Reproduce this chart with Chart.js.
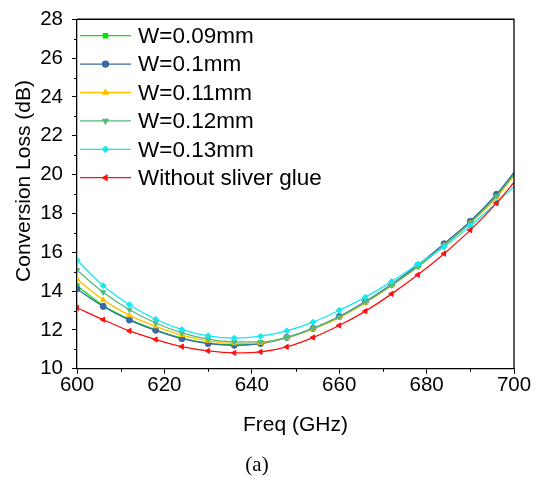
<!DOCTYPE html>
<html lang="en">
<head>
<meta charset="UTF-8">
<title>Conversion Loss vs Freq</title>
<script src="https://cdn.jsdelivr.net/npm/chart.js"></script>
<style>
  body { margin: 0; background: #fff; }
  #wrap { width: 541px; height: 485px; }
</style>
</head>
<body>
<div id="wrap"><canvas id="chart" width="541" height="485"></canvas></div>
<script>
// frequency points (GHz), markers every 6 GHz
var freq = [600, 606, 612, 618, 624, 630, 636, 642, 648, 654, 660, 666, 672, 678, 684, 690, 696, 700];

// conversion loss (dB)
var w009 = [14.28, 13.26, 12.55, 12.01, 11.58, 11.32, 11.23, 11.31, 11.61, 12.07, 12.67, 13.45, 14.33, 15.30, 16.40, 17.58, 18.95, 20.08];
var w010 = [14.11, 13.21, 12.51, 11.98, 11.55, 11.30, 11.21, 11.30, 11.61, 12.08, 12.69, 13.46, 14.35, 15.34, 16.44, 17.60, 18.99, 20.11];
var w011 = [14.62, 13.55, 12.75, 12.19, 11.73, 11.44, 11.31, 11.34, 11.59, 12.05, 12.62, 13.40, 14.28, 15.25, 16.35, 17.51, 18.82, 19.94];
var w012 = [15.08, 13.94, 13.04, 12.36, 11.85, 11.53, 11.39, 11.39, 11.61, 12.07, 12.67, 13.43, 14.30, 15.25, 16.35, 17.52, 18.90, 20.00];
var w013 = [15.59, 14.28, 13.30, 12.55, 12.02, 11.70, 11.58, 11.68, 11.95, 12.40, 13.01, 13.69, 14.49, 15.39, 16.28, 17.36, 18.55, 19.38];
var noGlue = [13.14, 12.53, 11.95, 11.51, 11.14, 10.92, 10.82, 10.87, 11.13, 11.61, 12.23, 12.97, 13.86, 14.84, 15.93, 17.14, 18.53, 19.60];

var labels = ['W=0.09mm', 'W=0.1mm', 'W=0.11mm', 'W=0.12mm', 'W=0.13mm', 'Without sliver glue'];

var xTicks = [600, 620, 640, 660, 680, 700];
var xMinor = [610, 630, 650, 670, 690];
var yTicks = [10, 12, 14, 16, 18, 20, 22, 24, 26, 28];
var yMinor = [11, 13, 15, 17, 19, 21, 23, 25, 27];

var sans = '"Liberation Sans", Arial, sans-serif';
Chart.defaults.color = '#000';
Chart.defaults.font.family = sans;

function series(label, values, color, style, rotation, order) {
  return {
    label: label,
    data: freq.map(function(f, i) { return {x: f, y: values[i]}; }),
    borderColor: color,
    backgroundColor: color,
    borderWidth: 1.3,
    pointStyle: style,
    pointRotation: rotation,
    pointRadius: freq.map(function(f) { return f % 6 === 0 ? 3 : 0; }),
    pointHoverRadius: 3,
    pointBorderWidth: 1,
    tension: 0.4,
    cubicInterpolationMode: 'monotone',
    order: order
  };
}

// legend drawn inside the plot, upper left
var inLegend = {
  id: 'inLegend',
  afterDatasetsDraw: function(chart) {
    var ctx = chart.ctx;
    var left = chart.chartArea.left;
    ctx.save();
    chart.data.datasets.forEach(function(ds, i) {
      var y = 35.7 + i * 28.4;
      ctx.strokeStyle = ds.borderColor;
      ctx.lineWidth = 1.3;
      ctx.beginPath();
      ctx.moveTo(left + 3, y);
      ctx.lineTo(left + 54, y);
      ctx.stroke();
      ctx.fillStyle = ds.backgroundColor;
      Chart.helpers.drawPoint(ctx, {pointStyle: ds.pointStyle, rotation: ds.pointRotation, radius: 3, borderWidth: 1}, left + 28.5, y);
      ctx.fillStyle = '#000';
      ctx.font = '22.5px ' + sans;
      ctx.textBaseline = 'middle';
      ctx.textAlign = 'left';
      ctx.fillText(ds.label, left + 61, y + 1);
    });
    ctx.restore();
  }
};

// frame, minor ticks and y title
var extras = {
  id: 'extras',
  afterDraw: function(chart) {
    var ctx = chart.ctx, a = chart.chartArea;
    var xs = chart.scales.x, ys = chart.scales.y;
    ctx.save();
    ctx.strokeStyle = '#000';
    ctx.lineWidth = 1.3;
    ctx.beginPath();
    ctx.moveTo(a.left, a.top);
    ctx.lineTo(a.right, a.top);
    ctx.lineTo(a.right, a.bottom);
    ctx.stroke();
    ctx.lineWidth = 1;
    ctx.beginPath();
    xMinor.forEach(function(v) {
      var px = Math.round(xs.getPixelForValue(v)) + 0.5;
      ctx.moveTo(px, a.bottom);
      ctx.lineTo(px, a.bottom + 3);
    });
    yMinor.forEach(function(v) {
      var py = Math.round(ys.getPixelForValue(v)) + 0.5;
      ctx.moveTo(a.left, py);
      ctx.lineTo(a.left - 3, py);
    });
    ctx.stroke();
    ctx.translate(24, 181);
    ctx.rotate(-Math.PI / 2);
    ctx.fillStyle = '#000';
    ctx.font = '21px ' + sans;
    ctx.textAlign = 'center';
    ctx.textBaseline = 'middle';
    ctx.fillText('Conversion Loss (dB)', 0, 0);
    ctx.restore();
  }
};

new Chart(document.getElementById('chart'), {
  type: 'line',
  data: {
    datasets: [
      series(labels[0], w009, '#00e600', 'rect', 0, 5),
      series(labels[1], w010, '#3a67a6', 'circle', 0, 4),
      series(labels[2], w011, '#ffbf00', 'triangle', 0, 3),
      series(labels[3], w012, '#55b97a', 'triangle', 180, 2),
      series(labels[4], w013, '#14e8f2', 'rectRot', 0, 1),
      series(labels[5], noGlue, '#ff1010', 'triangle', -90, 0)
    ]
  },
  options: {
    responsive: false,
    animation: false,
    events: [],
    layout: { padding: { top: 16, right: 27, left: 0, bottom: 0 } },
    plugins: {
      legend: { display: false },
      tooltip: { enabled: false },
      title: {
        display: true,
        position: 'bottom',
        text: '(a)',
        color: '#000',
        font: { family: '"Liberation Serif", "Times New Roman", serif', size: 21, weight: 'normal' },
        padding: { top: 0, bottom: 7 }
      }
    },
    scales: {
      x: {
        type: 'linear',
        min: 600,
        max: 700,
        afterBuildTicks: function(s) { s.ticks = xTicks.map(function(v) { return {value: v}; }); },
        afterFit: function(s) { s.height = 84; },
        grid: { drawOnChartArea: false, drawTicks: true, tickLength: 5, tickColor: '#000', tickWidth: 1 },
        border: { display: true, color: '#000', width: 1.3 },
        ticks: { color: '#000', font: { size: 20.5, lineHeight: 1 }, padding: 1, maxRotation: 0 },
        title: {
          display: true,
          text: 'Freq (GHz)',
          color: '#000',
          font: { size: 21 },
          padding: { top: 0, bottom: 15 }
        }
      },
      y: {
        min: 10,
        max: 28,
        afterBuildTicks: function(s) { s.ticks = yTicks.map(function(v) { return {value: v}; }); },
        afterFit: function(s) { s.width = 77; },
        grid: { drawOnChartArea: false, drawTicks: true, tickLength: 5, tickColor: '#000', tickWidth: 1 },
        border: { display: true, color: '#000', width: 1.3 },
        ticks: { color: '#000', font: { size: 20.5, lineHeight: 1 }, padding: 9 }
      }
    }
  },
  plugins: [inLegend, extras]
});
</script>
</body>
</html>
